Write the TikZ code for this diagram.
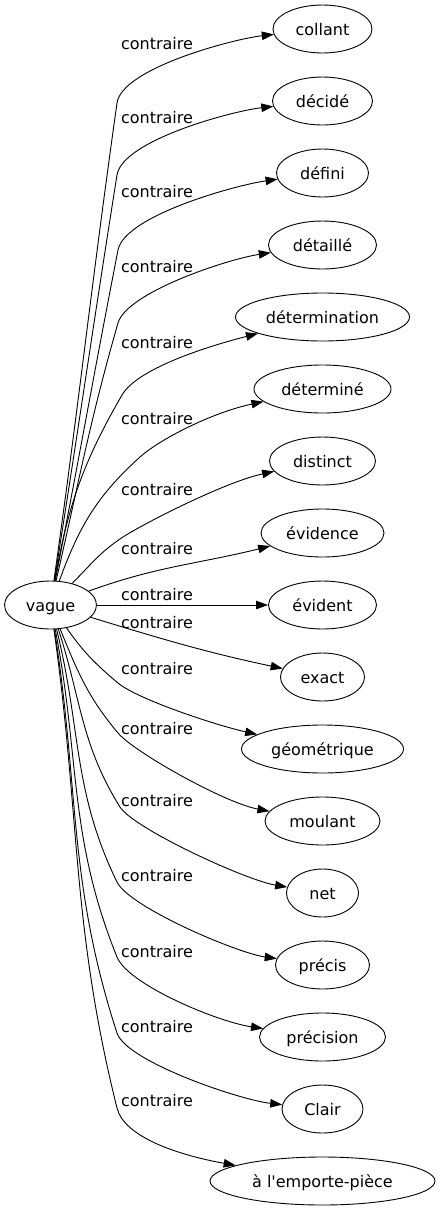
\documentclass[tikz,border=0pt]{standalone}
\usepackage{fontspec}
\setmainfont{DejaVu Sans}
\usetikzlibrary{arrows.meta,shapes.geometric}
\begin{document}
\begin{tikzpicture}[x=1pt,y=1pt,font=\fontsize{16}{19}\selectfont,
        link/.style={draw,line width=0.9pt,-{Triangle[length=12pt,width=8.5pt]}}]
        \useasboundingbox (0,0) rectangle (440,-1211);
        \begin{scope}[every node/.style={ellipse,draw,line width=0.9pt,inner sep=0pt,minimum height=48pt,text height=15pt,text depth=3pt}]
            \node (vague) [minimum width=92pt] at (50.5,-605) {vague};
            \node (collant) [minimum width=99pt] at (322.5,-29) {collant};
            \node (decide) [minimum width=100pt] at (322.5,-101) {décidé};
            \node (defini) [minimum width=92pt] at (322.5,-173) {défini};
            \node (detaille) [minimum width=108pt] at (322.5,-245) {détaillé};
            \node (determination) [minimum width=174pt] at (322.5,-317) {détermination};
            \node (determine) [minimum width=137pt] at (322.5,-389) {déterminé};
            \node (distinct) [minimum width=106pt] at (322.5,-461) {distinct};
            \node (evidence) [minimum width=123pt] at (322.5,-533) {évidence};
            \node (evident) [minimum width=108pt] at (322.5,-605) {évident};
            \node (exact) [minimum width=84pt] at (322.5,-677) {exact};
            \node (geometrique) [minimum width=162pt] at (322.5,-749) {géométrique};
            \node (moulant) [minimum width=115pt] at (322.5,-821) {moulant};
            \node (net) [minimum width=72pt] at (322.5,-893) {net};
            \node (precis) [minimum width=94pt] at (322.5,-965) {précis};
            \node (precision) [minimum width=126pt] at (322.5,-1037) {précision};
            \node (clair) [minimum width=81pt] at (322.5,-1109) {Clair};
            \node (emporte) [minimum width=225pt] at (322.5,-1181) {à l\textquotesingle emporte-pièce};
        \end{scope}
        \begin{scope}[every node/.style={inner sep=0pt,text height=15pt,text depth=3pt}]
            \node (c1) at (157,-43) {contraire};
            \node (c2) at (157,-117) {contraire};
            \node (c3) at (157,-191) {contraire};
            \node (c4) at (157,-266) {contraire};
            \node (c5) at (157,-342) {contraire};
            \node (c6) at (157,-418) {contraire};
            \node (c7) at (157,-489) {contraire};
            \node (c8) at (157,-548) {contraire};
            \node (c9) at (157,-594) {contraire};
            \node (c10) at (157,-622) {contraire};
            \node (c11) at (157,-668) {contraire};
            \node (c12) at (157,-728) {contraire};
            \node (c13) at (157,-800) {contraire};
            \node (c14) at (157,-875) {contraire};
            \node (c15) at (157,-951) {contraire};
            \node (c16) at (157,-1026) {contraire};
            \node (c17) at (157,-1100) {contraire};
        \end{scope}
        % edges, knee then bend towards the word
        \draw[link] (vague) to[out=82,in=262] (117,-103) .. controls +(82:35) and (233,-39) .. (collant);
        \draw[link] (vague) to[out=81,in=261] (117,-175) .. controls +(81:35) and (232,-111) .. (decide);
        \draw[link] (vague) to[out=79,in=259] (118,-250) .. controls +(79:35) and (236,-185) .. (defini);
        \draw[link] (vague) to[out=77,in=254] (118,-323) .. controls +(74:32) and (228,-259) .. (detaille);
        \draw[link] (vague) to[out=80,in=240] (122,-395) .. controls +(60:30) and (205,-347) .. (determination);
        \draw[link] (vague) to[out=70,in=222] (140,-457) .. controls +(42:25) and (210,-413) .. (determine);
        \draw[link] (vague) to[out=45,in=213] (123,-537) .. controls +(33:25) and (225,-482) .. (distinct);
        \draw[link] (vague) to[out=20,in=194] (evidence);
        \draw[link] (vague) -- (evident);
        \draw[link] (vague) to[out=-17,in=168] (exact);
        \draw[link] (vague) to[out=-55,in=140] (118,-683) .. controls +(-40:25) and (215,-725) .. (geometrique);
        \draw[link] (vague) to[out=-68,in=130] (118,-733) .. controls +(-50:25) and (225,-803) .. (moulant);
        \draw[link] (vague) to[out=-72,in=122] (120,-807) .. controls +(-58:25) and (245,-880) .. (net);
        \draw[link] (vague) to[out=-76,in=116] (117,-882) .. controls +(-64:28) and (237,-953) .. (precis);
        \draw[link] (vague) to[out=-79,in=112] (117,-957) .. controls +(-68:30) and (218,-1022) .. (precision);
        \draw[link] (vague) to[out=-81,in=108] (117,-1033) .. controls +(-72:30) and (240,-1100) .. (clair);
        \draw[link] (vague) to[out=-82,in=104] (117,-1108) .. controls +(-76:30) and (178,-1155) .. (emporte);
    \end{tikzpicture}
\end{document}
